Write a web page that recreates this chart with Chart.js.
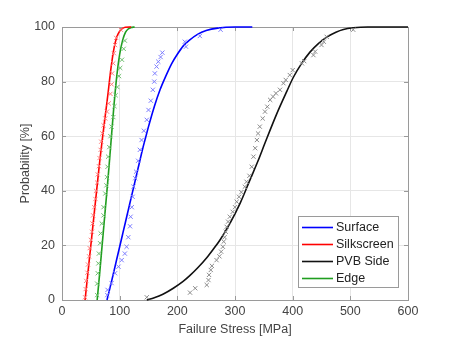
<!DOCTYPE html>
<html>
<head>
<meta charset="utf-8">
<script src="https://cdn.jsdelivr.net/npm/chart.js@4.4.0/dist/chart.umd.min.js"></script>
<style>
    html, body { margin: 0; padding: 0; background: #fff; }
    canvas { display: block; }
</style>
</head>
<body>
<canvas id="chart" width="457" height="353"></canvas>
<script>
// Fitted curves [stress MPa, probability %]
const surfaceFit = [[78,0],[85,6],[90,10.5],[95,15],[100,19.5],[105,24],[110,28.5],[115,33],[120,37.5],[125,42],[130,46.5],[135,51],[140,55.5],[145,59.5],[150,63.5],[160,70.8],[170,77],[180,82],[190,86.5],[200,90],[210,93],[220,95],[235,97.3],[250,98.7],[270,99.6],[300,100],[330,100]];
const silkscreenFit = [[40,0],[45,10],[50,20],[55,30],[60,40],[65,50],[70,59],[75,67.5],[80,76],[85,85],[90,92],[95,96.3],[100,98.5],[105,99.5],[110,99.9],[120,100]];
const pvbFit = [[147,0],[160,0.8],[175,2.1],[193,4.3],[210,6.8],[222,9],[235,11.7],[251,15.5],[262,18.5],[274,22],[291,28],[309,35.5],[326,44],[340,51],[352,57.5],[372,68],[390,76.5],[401,81.5],[415,86.5],[430,90.8],[445,94],[459,96.3],[475,98.1],[488,99.1],[505,99.7],[530,100],[600,100]];
const edgeFit = [[61,0],[65,9],[70,21],[75,33],[80,45],[85,58],[90,71],[95,82],[100,90],[105,95],[110,98],[115,99.3],[120,99.8],[126,100]];

// Measured points [stress MPa, probability %]
const surfacePts = [[78.5,1.8],[79,3.7],[86,6.2],[92,9.8],[98,12.2],[103.5,14.6],[109,17],[112,19.5],[115,23],[118,27],[119,30.5],[121,34],[122.5,37.8],[124,41.5],[127,44.6],[128.5,47],[132,51],[135,55],[138,58.6],[142,62],[147,66],[150,69.6],[154,73],[157.5,77],[160,80],[161,83],[164,85.5],[167,87.3],[171,89],[174,90.6],[215,92.8],[213,94.6],[239,96.7],[275,99]];
const silkscreenPts = [[40,1],[41,4],[42,7],[44,10],[45,13],[47,16],[48,19],[50,22],[52,25],[53,28],[54,31],[56,34],[58,37],[59,40],[61,43],[62,46],[64,49],[65,52],[67,55],[68,58],[70,61],[72,64],[75,66.5],[78,69],[81,72],[84,75.5],[86,79],[87,83],[89,86.7],[90,90.4],[92,93.4],[94,96],[102,99]];
const pvbPts = [[147,1],[222,2.7],[231,4.3],[251,5.5],[254,7.3],[255,9.2],[258,11],[260,12.5],[268,14.6],[273,16],[276,17.7],[279,19.5],[280.5,21.4],[282,23],[284,25],[285.5,26.8],[288,28.7],[291,30.5],[296,32.3],[300,34],[303,36],[307,37.8],[311,39.5],[317,41.5],[320,43.3],[325,45.5],[329,48.8],[332,52.5],[335,55.6],[338,58.6],[340,61],[343,63.5],[348,66.5],[352,69],[356,70.8],[361,73.3],[366,74.5],[371,75.7],[378,77],[384,79.4],[388,80.6],[395,82.4],[400,84.2],[416,86.7],[420,87.5],[436,89.7],[439,91],[450,93.4],[454,94.6],[459,96.4],[505,99]];
const edgePts = [[61,1.8],[61,6],[62,9.8],[63,13.4],[64,17],[66,20.8],[67,24.4],[69,28],[72,31],[72,34],[75,39],[77,42],[78,45],[79,48.8],[80,52.5],[82,56],[84,60],[86,63.5],[89,67],[91,71],[93,75],[96,78],[99,82],[101,85],[104,88],[107,92],[109,95]];

const seriesNames = ['Surface', 'Silkscreen', 'PVB Side', 'Edge'];
const lineColors = ['#0000ff', '#ff0000', '#111111', '#1f9e1f'];
const markColors = ['#7d7dff', '#ff7d7d', '#8a8a8a', '#6fbf6f'];

const xTicks = [0, 100, 200, 300, 400, 500, 600];
const yTicks = [0, 20, 40, 60, 80, 100];

const toXY = arr => arr.map(p => ({ x: p[0], y: p[1] }));
const fits = [surfaceFit, silkscreenFit, pvbFit, edgeFit];
const pts = [surfacePts, silkscreenPts, pvbPts, edgePts];

const textColor = '#444';
const fontFamily = '"Liberation Sans", Arial, sans-serif';

const datasets = [];
pts.forEach((p, i) => {
    datasets.push({
        label: seriesNames[i] + ' data',
        data: toXY(p),
        showLine: false,
        pointStyle: 'crossRot',
        pointRadius: 3,
        pointBorderWidth: 1,
        borderColor: markColors[i],
        backgroundColor: markColors[i],
        clip: false
    });
});
fits.forEach((f, i) => {
    datasets.push({
        label: seriesNames[i],
        data: toXY(f),
        showLine: true,
        pointRadius: 0,
        borderWidth: 1.6,
        borderColor: lineColors[i],
        cubicInterpolationMode: 'monotone',
        clip: false
    });
});

// axes box with inward ticks (MATLAB style)
const frame = {
    id: 'frame',
    beforeDatasetsDraw(chart) {
        const { ctx, chartArea: a, scales } = chart;
        ctx.save();
        ctx.strokeStyle = '#9a9a9a';
        ctx.lineWidth = 1;
        ctx.strokeRect(a.left + 0.5, a.top + 0.5, a.right - a.left, a.bottom - a.top);
        ctx.beginPath();
        xTicks.forEach(v => {
            const x = Math.round(scales.x.getPixelForValue(v)) + 0.5;
            ctx.moveTo(x, a.bottom); ctx.lineTo(x, a.bottom - 4);
            ctx.moveTo(x, a.top); ctx.lineTo(x, a.top + 4);
        });
        yTicks.forEach(v => {
            const y = Math.round(scales.y.getPixelForValue(v)) + 0.5;
            ctx.moveTo(a.left, y); ctx.lineTo(a.left + 4, y);
            ctx.moveTo(a.right, y); ctx.lineTo(a.right - 4, y);
        });
        ctx.stroke();
        ctx.restore();
    }
};

// legend box inside the lower right corner
const boxLegend = {
    id: 'boxLegend',
    afterDraw(chart) {
        const { ctx, chartArea: a } = chart;
        const w = 100, h = 71;
        const x0 = a.right - 10 - w;
        const y0 = a.bottom - 13 - h;
        ctx.save();
        ctx.fillStyle = '#fff';
        ctx.fillRect(x0, y0, w, h);
        ctx.strokeStyle = '#9a9a9a';
        ctx.lineWidth = 1;
        ctx.strokeRect(x0 + 0.5, y0 + 0.5, w, h);
        ctx.font = '12.5px ' + fontFamily;
        ctx.textBaseline = 'middle';
        seriesNames.forEach((name, i) => {
            const y = y0 + 11.5 + i * 17;
            ctx.strokeStyle = lineColors[i];
            ctx.lineWidth = 1.6;
            ctx.beginPath();
            ctx.moveTo(x0 + 4, y);
            ctx.lineTo(x0 + 35, y);
            ctx.stroke();
            ctx.fillStyle = '#222';
            ctx.fillText(name, x0 + 38, y);
        });
        ctx.restore();
    }
};

new Chart(document.getElementById('chart'), {
    type: 'scatter',
    data: { datasets: datasets },
    options: {
        responsive: false,
        animation: false,
        devicePixelRatio: 1,
        layout: { padding: { top: 27, right: 49, left: 0, bottom: 0 } },
        plugins: {
            legend: { display: false },
            tooltip: { enabled: false }
        },
        scales: {
            x: {
                type: 'linear',
                min: 0,
                max: 600,
                afterBuildTicks: s => { s.ticks = xTicks.map(v => ({ value: v })); },
                ticks: { color: textColor, font: { family: fontFamily, size: 12.5 }, padding: 4, maxRotation: 0 },
                grid: { color: '#e6e6e6', drawTicks: false },
                border: { display: false },
                title: { display: true, text: 'Failure Stress [MPa]', color: textColor,
                    font: { family: fontFamily, size: 12.5 }, padding: { top: 0, bottom: 16 } },
                afterFit: s => { s.height = 53; s.paddingLeft = 0; s.paddingRight = 0; }
            },
            y: {
                type: 'linear',
                min: 0,
                max: 100,
                afterBuildTicks: s => { s.ticks = yTicks.map(v => ({ value: v })); },
                ticks: { color: textColor, font: { family: fontFamily, size: 12.5 }, padding: 7 },
                grid: { color: '#e6e6e6', drawTicks: false },
                border: { display: false },
                title: { display: true, text: 'Probability [%]', color: textColor,
                    font: { family: fontFamily, size: 12.5 }, padding: { top: 18, bottom: 0 } },
                afterFit: s => { s.width = 62; s.paddingTop = 0; s.paddingBottom = 0; }
            }
        }
    },
    plugins: [frame, boxLegend]
});
</script>
</body>
</html>
